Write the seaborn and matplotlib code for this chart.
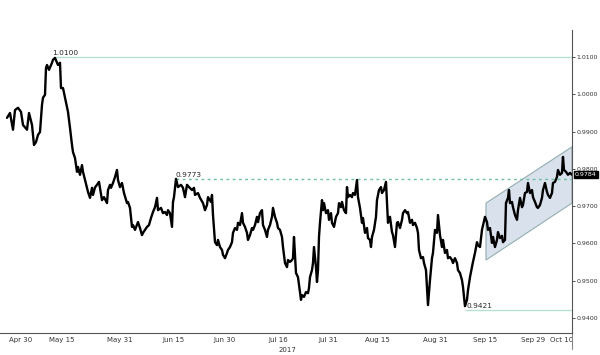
import numpy as np
import pandas as pd
import matplotlib
matplotlib.use("Agg")
import matplotlib.pyplot as plt
import seaborn as sns

# bar position (session index along the axis) and price
bar = [7, 10, 13, 15, 18, 21, 23, 27, 29, 32, 34, 36, 38, 40, 42, 43, 45, 46, 47, 49,
       52, 53, 55, 57, 58, 60, 61, 63, 65, 67, 68, 70, 72, 73, 75, 77, 78, 80, 82, 83,
       85, 87, 88, 90, 92, 93, 95, 97, 99, 102, 104, 107, 108, 110, 111, 113, 115, 117, 118, 120,
       122, 124, 127, 128, 130, 132, 133, 135, 138, 140, 142, 143, 145, 147, 149, 151, 153, 155, 157, 158,
       161, 163, 165, 167, 168, 170, 172, 173, 174, 176, 178, 181, 183, 185, 187, 189, 192, 194, 195, 198,
       200, 203, 205, 207, 208, 211, 212, 213, 215, 217, 218, 220, 222, 223, 225, 227, 228, 230, 232, 233,
       235, 237, 238, 240, 242, 243, 245, 247, 248, 250, 252, 253, 255, 257, 258, 260, 262, 263, 265, 267,
       268, 270, 272, 273, 275, 277, 278, 280, 282, 283, 285, 287, 288, 290, 292, 293, 294, 296, 298, 299,
       301, 302, 304, 306, 308, 309, 310, 312, 313, 314, 316, 317, 318, 319, 320, 322, 323, 324, 326, 328,
       329, 331, 332, 334, 336, 338, 339, 341, 342, 344, 346, 347, 348, 350, 352, 353, 355, 357, 358, 360,
       362, 363, 365, 367, 368, 370, 371, 372, 374, 376, 377, 379, 381, 382, 384, 386, 387, 388, 390, 392,
       393, 395, 397, 398, 400, 402, 403, 405, 407, 408, 410, 412, 413, 415, 417, 418, 419, 421, 423, 424,
       426, 427, 428, 430, 432, 433, 435, 437, 438, 440, 442, 443, 445, 447, 448, 450, 452, 453, 455, 457,
       458, 460, 462, 463, 465, 467, 468, 470, 472, 473, 475, 477, 478, 480, 482, 485, 487, 488, 490, 492,
       493, 495, 497, 498, 500, 502, 503, 505, 506, 508, 509, 510, 512, 513, 515, 517, 518, 520, 522, 523,
       525, 527, 528, 530, 532, 533, 535, 537, 538, 540, 542, 543, 545, 547, 548, 550, 552, 553, 555, 557,
       558, 560, 562, 563, 564, 566, 568, 570, 572]
price = [0.9937, 0.9950, 0.9905, 0.9958, 0.9964, 0.9953, 0.9918, 0.9905, 0.9950, 0.9918,
         0.9864, 0.9872, 0.9891, 0.9899, 0.9972, 0.9991, 0.9999, 1.0071, 1.0079, 1.0066,
         1.0085, 1.0093, 1.0098, 1.0085, 1.0079, 1.0085, 1.0017, 1.0017, 0.9991, 0.9966,
         0.9953, 0.9910, 0.9864, 0.9845, 0.9829, 0.9792, 0.9805, 0.9784, 0.9810, 0.9792,
         0.9770, 0.9749, 0.9738, 0.9722, 0.9749, 0.9730, 0.9750, 0.9757, 0.9765, 0.9716,
         0.9724, 0.9708, 0.9743, 0.9757, 0.9749, 0.9762, 0.9778, 0.9797, 0.9770, 0.9751,
         0.9762, 0.9735, 0.9708, 0.9711, 0.9695, 0.9644, 0.9649, 0.9636, 0.9657, 0.9641,
         0.9622, 0.9628, 0.9636, 0.9644, 0.9649, 0.9668, 0.9684, 0.9697, 0.9722, 0.9689,
         0.9695, 0.9681, 0.9684, 0.9676, 0.9689, 0.9681, 0.9644, 0.9711, 0.9724, 0.9773,
         0.9751, 0.9757, 0.9749, 0.9724, 0.9757, 0.9751, 0.9743, 0.9749, 0.9730, 0.9735,
         0.9722, 0.9708, 0.9689, 0.9703, 0.9724, 0.9711, 0.9730, 0.9676, 0.9603, 0.9595,
         0.9609, 0.9590, 0.9582, 0.9569, 0.9560, 0.9574, 0.9582, 0.9590, 0.9603, 0.9628,
         0.9641, 0.9636, 0.9655, 0.9649, 0.9681, 0.9655, 0.9644, 0.9628, 0.9609, 0.9622,
         0.9641, 0.9636, 0.9649, 0.9671, 0.9657, 0.9681, 0.9689, 0.9649, 0.9636, 0.9617,
         0.9636, 0.9649, 0.9671, 0.9695, 0.9671, 0.9655, 0.9641, 0.9636, 0.9617, 0.9590,
         0.9547, 0.9536, 0.9555, 0.9550, 0.9555, 0.9560, 0.9617, 0.9520, 0.9509, 0.9488,
         0.9448, 0.9461, 0.9456, 0.9469, 0.9466, 0.9480, 0.9509, 0.9528, 0.9547, 0.9590,
         0.9536, 0.9496, 0.9528, 0.9617, 0.9655, 0.9716, 0.9689, 0.9708, 0.9681, 0.9689,
         0.9663, 0.9681, 0.9655, 0.9644, 0.9671, 0.9681, 0.9708, 0.9697, 0.9711, 0.9689,
         0.9681, 0.9751, 0.9724, 0.9730, 0.9724, 0.9735, 0.9730, 0.9770, 0.9724, 0.9695,
         0.9655, 0.9668, 0.9628, 0.9641, 0.9614, 0.9609, 0.9590, 0.9617, 0.9636, 0.9671,
         0.9716, 0.9743, 0.9751, 0.9735, 0.9743, 0.9765, 0.9708, 0.9655, 0.9671, 0.9630,
         0.9622, 0.9590, 0.9655, 0.9657, 0.9641, 0.9663, 0.9681, 0.9689, 0.9681, 0.9684,
         0.9655, 0.9663, 0.9649, 0.9655, 0.9641, 0.9628, 0.9582, 0.9560, 0.9563, 0.9547,
         0.9528, 0.9483, 0.9434, 0.9501, 0.9560, 0.9574, 0.9636, 0.9628, 0.9676, 0.9622,
         0.9590, 0.9609, 0.9574, 0.9582, 0.9560, 0.9563, 0.9555, 0.9547, 0.9560, 0.9547,
         0.9528, 0.9520, 0.9501, 0.9483, 0.9431, 0.9448, 0.9474, 0.9509, 0.9536, 0.9550,
         0.9574, 0.9603, 0.9595, 0.9590, 0.9636, 0.9671, 0.9657, 0.9636, 0.9641, 0.9601,
         0.9617, 0.9590, 0.9609, 0.9630, 0.9614, 0.9620, 0.9603, 0.9609, 0.9708, 0.9722,
         0.9743, 0.9708, 0.9711, 0.9697, 0.9676, 0.9663, 0.9689, 0.9722, 0.9697, 0.9703,
         0.9735, 0.9738, 0.9762, 0.9735, 0.9743, 0.9724, 0.9711, 0.9697, 0.9695, 0.9703,
         0.9722, 0.9743, 0.9762, 0.9738, 0.9730, 0.9722, 0.9735, 0.9762, 0.9765, 0.9778,
         0.9797, 0.9784, 0.9789, 0.9832, 0.9797, 0.9792, 0.9784, 0.9789, 0.9784]

date_pos = [21, 62, 120, 173, 225, 278, 328, 377, 435, 485, 533, 562]
date_labels = ["Apr 30", "May 15", "May 31", "Jun 15", "Jun 30", "Jul 16",
               "Jul 31", "Aug 15", "Aug 31", "Sep 15", "Sep 29", "Oct 10"]
y_ticks = [0.9400, 0.9500, 0.9600, 0.9700, 0.9800, 0.9900, 1.0000, 1.0100]

# key levels: (value, start bar)
level_high = (1.0100, 55)
level_mid = (0.9773, 176)
level_low = (0.9421, 465)
last_price = 0.9784

# rising channel corners (bar, price)
channel_x = [486, 572, 572, 486]
channel_y = [0.9708, 0.9859, 0.9708, 0.9555]

df = pd.DataFrame({"bar": bar, "price": price})

sns.set_style("white")
fig = plt.figure(figsize=(6, 3.55), dpi=100)
ax = fig.add_axes([0.0, 0.062, 0.9533, 0.8535])

ax.fill(channel_x, channel_y, facecolor="#d9e1ec", edgecolor="#93aeb0", lw=0.8, zorder=1)

sns.lineplot(data=df, x="bar", y="price", ax=ax, color="black", lw=1.7, zorder=3)

teal = "#b6e2d3"
ax.hlines(level_high[0], level_high[1], 572, color=teal, lw=1.0, zorder=2)
ax.hlines(level_mid[0], level_mid[1], 572, color="#6cbfa1", lw=1.0, ls=(0, (2, 2.5)), zorder=2)
ax.hlines(level_low[0], level_low[1], 572, color=teal, lw=1.0, zorder=2)

ax.text(level_high[1] - 3, level_high[0] + 0.0003, f"{level_high[0]:.4f}", fontsize=5.3, ha="left", va="bottom")
ax.text(level_mid[1], level_mid[0] + 0.0003, f"{level_mid[0]:.4f}", fontsize=5.3, ha="left", va="bottom")
ax.text(level_low[1] + 2, level_low[0] + 0.0003, f"{level_low[0]:.4f}", fontsize=5.3, ha="left", va="bottom")

ax.set_xlim(0, 572)
ax.set_ylim(0.9359, 1.0173)

for s in ["left", "top"]:
    ax.spines[s].set_visible(False)
ax.spines["bottom"].set_color("#555555")
ax.spines["right"].set_color("#555555")
ax.spines["bottom"].set_linewidth(0.8)
ax.spines["right"].set_linewidth(0.8)

ax.yaxis.tick_right()
ax.set_yticks(y_ticks)
ax.set_yticklabels([f"{v:.4f}" for v in y_ticks])
ax.tick_params(axis="y", direction="out", length=2.5, width=0.6, pad=0.8, labelsize=4.5, colors="#333333")

ax.set_xticks(date_pos)
ax.set_xticklabels(date_labels)
ax.tick_params(axis="x", length=0, pad=3, labelsize=5, colors="#333333")
minor = [(a + b) / 2 for a, b in zip(date_pos[:-1], date_pos[1:])]
ax.set_xticks(minor, minor=True)
ax.tick_params(axis="x", which="minor", direction="in", length=2, width=0.6, color="#777777")
ax.text(287, -0.045, "2017", transform=ax.get_xaxis_transform(), fontsize=5, ha="center", va="top", color="#333333")

ax.set_xlabel("")
ax.set_ylabel("")

# last price tag on the right axis
ax.text(1.005, last_price, f"{last_price:.4f}", transform=ax.get_yaxis_transform(), fontsize=4.5,
        color="white", ha="left", va="center",
        bbox=dict(boxstyle="square,pad=0.15", fc="black", ec="black"))

# right edge marker below the axis
ax.plot([572, 572], [0.9359, 0.9315], color="#888888", lw=0.8, clip_on=False)

fig.savefig("out.png", dpi=100)
